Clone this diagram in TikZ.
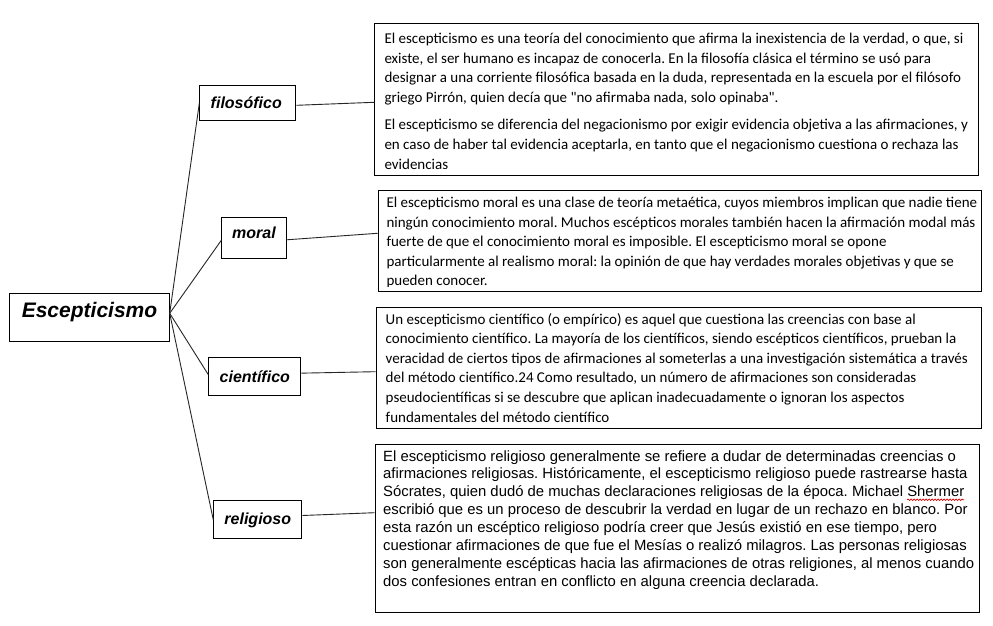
\documentclass[tikz,border=0pt]{standalone}
\usepackage{fontspec}
\newfontfamily\calib{Carlito}
\newfontfamily\arialf{Liberation Sans}
\usetikzlibrary{calc,decorations.pathmorphing}
\newlength\shx
\newlength\shw
\AtBeginDocument{%
  \settowidth\shx{\arialf\fontsize{14.85}{17.9}\selectfont\frenchspacing Sócrates, quien dudó de muchas declaraciones religiosas de la época. Michael }%
  \settowidth\shw{\arialf\fontsize{14.85}{17.9}\selectfont Shermer}}
\tikzset{
  frame/.style={draw=black, line width=1pt, inner sep=0pt, anchor=north west},
  lab/.style={frame, font=\arialf\bfseries\itshape\fontsize{16}{16}\selectfont},
  conn/.style={draw=black!85, line width=0.9pt},
  para/.style={inner sep=0pt, anchor=base west},
  squiggle/.style={draw=red!85!black, line width=0.7pt, decorate,
    decoration={snake, amplitude=0.8pt, segment length=3pt}},
}
\begin{document}
\begin{tikzpicture}[x=1pt,y=-1pt]
\fill[white] (0,0) rectangle (993,626);
\useasboundingbox (0,0) rectangle (993,626);

% category boxes
\node[lab, font=\arialf\bfseries\itshape\fontsize{21}{21}\selectfont,
      minimum width=159.4pt, minimum height=48pt, text height=7pt, text depth=7pt]
      (esc) at (9.3,293.3) {Escepticismo};
\node[lab, minimum width=96pt, minimum height=35pt, text height=10pt, text depth=0pt]
      (fil) at (199.3,85.3) {\hspace{-3pt}filosófico\hspace{2pt}};
\node[lab, minimum width=64.4pt, minimum height=41pt, text height=6pt, text depth=6pt]
      (mor) at (221.3,217.3) {moral};
\node[lab, minimum width=92pt, minimum height=37.7pt, text height=11pt, text depth=0pt]
      (cie) at (208.3,357.3) {científico};
\node[lab, minimum width=88pt, minimum height=38pt, text height=9.4pt, text depth=0pt]
      (rel) at (213.3,500.3) {religioso};

% text frames
\node[frame, minimum width=604pt, minimum height=151.7pt] (t1) at (374.3,23.3) {};
\node[frame, minimum width=603.5pt, minimum height=101.1pt] (t2) at (377.5,190.2) {};
\node[frame, minimum width=605.2pt, minimum height=121pt] (t3) at (375.5,307.3) {};
\node[frame, minimum width=604.3pt, minimum height=167.7pt] (t4) at (374.7,444) {};

% texts
\node[para] (p1) at (384.3,43.5) {\begin{minipage}[t]{700pt}\calib\fontsize{15}{19.6}\selectfont\frenchspacing\raggedright
El escepticismo es una teoría del conocimiento que afirma la inexistencia de la verdad, o que, si\\
existe, el ser humano es incapaz de conocerla. En la filosofía clásica el término se usó para\\
designar a una corriente filosófica basada en la duda, representada en la escuela por el filósofo\\
griego Pirrón, quien decía que "no afirmaba nada, solo opinaba".\\[8pt]
El escepticismo se diferencia del negacionismo por exigir evidencia objetiva a las afirmaciones, y\\
en caso de haber tal evidencia aceptarla, en tanto que el negacionismo cuestiona o rechaza las\\
evidencias\end{minipage}};

\begin{scope}
\clip (377.5,190.2) rectangle (981,286.5);
\node[para] (p2) at (386.3,207.5) {\begin{minipage}[t]{700pt}\calib\fontsize{15}{19.6}\selectfont\frenchspacing\raggedright
El escepticismo moral es una clase de teoría metaética, cuyos miembros implican que nadie tiene\\
ningún conocimiento moral. Muchos escépticos morales también hacen la afirmación modal más\\
fuerte de que el conocimiento moral es imposible. El escepticismo moral se opone\\
particularmente al realismo moral: la opinión de que hay verdades morales objetivas y que se\\
pueden conocer.\end{minipage}};
\end{scope}

\node[para] (p3) at (385.5,324) {\begin{minipage}[t]{700pt}\calib\fontsize{15}{19.6}\selectfont\frenchspacing\raggedright
Un escepticismo científico (o empírico) es aquel que cuestiona las creencias con base al\\
conocimiento científico. La mayoría de los científicos, siendo escépticos científicos, prueban la\\
veracidad de ciertos tipos de afirmaciones al someterlas a una investigación sistemática a través\\
del método científico.24 Como resultado, un número de afirmaciones son consideradas\\
pseudocientíficas si se descubre que aplican inadecuadamente o ignoran los aspectos\\
fundamentales del método científico\end{minipage}};

\node[para] (p4) at (383,461) {\begin{minipage}[t]{700pt}\arialf\fontsize{14.85}{17.9}\selectfont\frenchspacing\raggedright
El escepticismo religioso generalmente se refiere a dudar de determinadas creencias o\\
afirmaciones religiosas. Históricamente, el escepticismo religioso puede rastrearse hasta\\
Sócrates, quien dudó de muchas declaraciones religiosas de la época. Michael Shermer\\
escribió que es un proceso de descubrir la verdad en lugar de un rechazo en blanco. Por\\
esta razón un escéptico religioso podría creer que Jesús existió en ese tiempo, pero\\
cuestionar afirmaciones de que fue el Mesías o realizó milagros. Las personas religiosas\\
son generalmente escépticas hacia las afirmaciones de otras religiones, al menos cuando\\
dos confesiones entran en conflicto en alguna creencia declarada.\end{minipage}};

% spell-check squiggle under "Shermer" (third line of p4)
\coordinate (sq0) at ([xshift=\shx, yshift=-38.8pt]p4.base west);
\coordinate (sq1) at ([xshift=\shw]sq0);
\draw[squiggle] (sq0) -- (sq1);

% connectors from the hub
\draw[conn] ($(esc.east)+(0,-4.5)$) -- (fil.west);
\draw[conn] ($(esc.east)+(0,-4.5)$) -- ($(mor.west)+(0,2)$);
\draw[conn] ($(esc.east)+(0,-4.5)$) -- ($(cie.west)+(0,-2)$);
\draw[conn] ($(esc.east)+(0,-4.5)$) -- (rel.west);

% connectors to the texts
\draw[conn] ($(fil.east)+(0,2)$) -- ($(t1.north west)+(0,79)$);
\draw[conn] ($(mor.east)+(0,1.5)$) -- ($(t2.north west)+(0,43.1)$);
\draw[conn] ($(cie.east)+(0,-3.5)$) -- ($(t3.north west)+(0,64.4)$);
\draw[conn] ($(rel.east)+(0,-4.3)$) -- ($(t4.north west)+(0,68.7)$);
\end{tikzpicture}
\end{document}
